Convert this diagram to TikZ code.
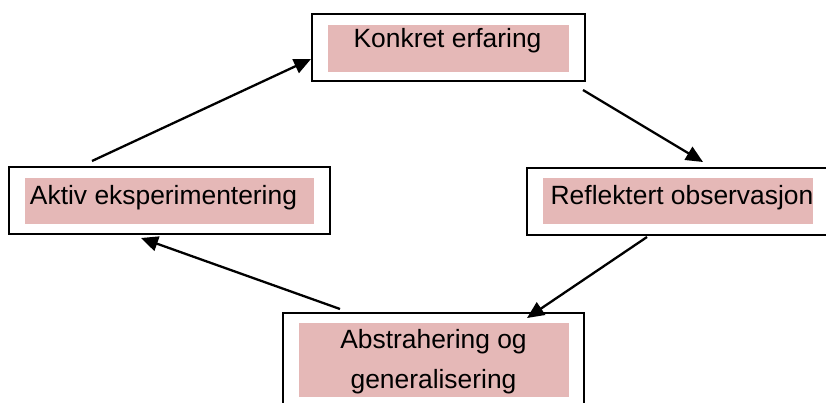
\documentclass[tikz,border=0pt]{standalone}
\usepackage{fontspec}
\setmainfont{Liberation Sans}
\usetikzlibrary{arrows.meta,positioning,calc}
\definecolor{pinkfill}{RGB}{229,184,183}
\begin{document}
\begin{tikzpicture}[x=1pt,y=-1pt,
  outerbox/.style={draw=black,line width=2pt,fill=white,inner sep=0pt,minimum width=#1},
  pinkbox/.style={fill=pinkfill,draw=none,inner sep=0pt,minimum width=#1},
  label/.style={inner sep=0pt,anchor=base,font=\fontsize{26.4}{32}\selectfont},
  flow/.style={line width=2.3pt,-{Triangle[length=17pt,width=15pt]}}]
\clip (0,0) rectangle (826,403);
\fill[white] (0,0) rectangle (826,403);
% outer boxes
\node[outerbox=273pt,minimum height=67pt] (top) at (448.5,47.5) {};
\node[outerbox=321pt,minimum height=67pt] (left) at (169.5,200.5) {};
\node[outerbox=323pt,minimum height=67pt] (right) at (688.5,201.5) {};
\node[outerbox=301pt,minimum height=95pt] (bottom) at (433.5,360.5) {};
% pink boxes
\node[pinkbox=241pt,minimum height=47pt] (toppink) at (448.5,48.5) {};
\node[pinkbox=289pt,minimum height=46pt] (leftpink) at (169.5,201) {};
\node[pinkbox=270pt,minimum height=46pt] (rightpink) at (678,201) {};
\node[pinkbox=270pt,minimum height=74pt] (bottompink) at (434,360) {};
% texts
\node[label] (toptext) at (447.5,48) {Konkret erfaring};
\node[label] (lefttext) at (163.5,205) {Aktiv eksperimentering};
\node[label] (righttext) at (682,205) {Reflektert observasjon};
\node[label] (bottomtext1) at (433.5,348) {Abstrahering og};
\node[label] (bottomtext2) at (433.5,388) {generalisering};
% connector end points
\coordinate (a1s) at (92,161);
\coordinate (a1e) at (311,59);
\coordinate (a2s) at (583,90);
\coordinate (a2e) at (703,162);
\coordinate (a3s) at (647,237);
\coordinate (a3e) at (527,318);
\coordinate (a4s) at (340,309);
\coordinate (a4e) at (141,238);
\draw[flow] (a1s) -- (a1e);
\draw[flow] (a2s) -- (a2e);
\draw[flow] (a3s) -- (a3e);
\draw[flow] (a4s) -- (a4e);
\end{tikzpicture}
\end{document}
